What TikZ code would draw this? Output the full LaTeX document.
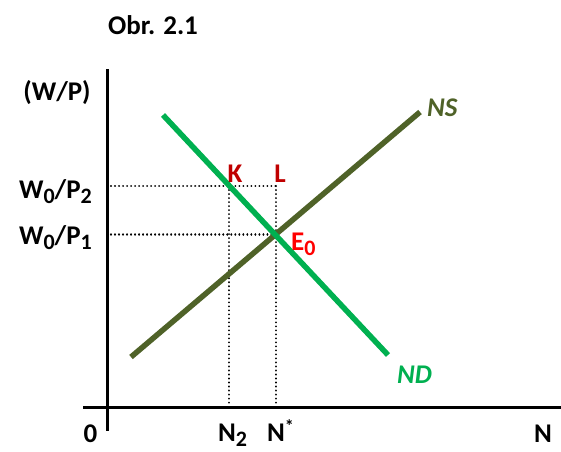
\documentclass[tikz,border=0pt]{standalone}
\usepackage{fontspec}
\setmainfont{Carlito}
\definecolor{ndgreen}{HTML}{00B050}
\definecolor{nsolive}{HTML}{4F6228}
\definecolor{kred}{HTML}{C00000}
\definecolor{ered}{HTML}{FF0000}
\newcommand\lowsub[2][5pt]{\raisebox{-#1}{\fontsize{22}{22}\selectfont #2}}
\newcommand\hisup[1]{\raisebox{9pt}{\fontsize{18}{18}\selectfont #1}}
\begin{document}
\begin{tikzpicture}[x=1pt,y=-1pt,
  lbl/.style={inner sep=0pt, font=\fontsize{27}{30}\selectfont\bfseries},
  axis/.style={line width=3pt, black},
  guide/.style={line width=2.1pt, black, line cap=round, dash pattern=on 0.01pt off 4pt},
  curve/.style={line width=5.5pt}]
\useasboundingbox (0,0) rectangle (561,451);
% axes
\coordinate (ytop) at (107,69);
\coordinate (ybot) at (107,431);
\coordinate (xl) at (83,407);
\coordinate (xr) at (561,407);
\draw[axis] (ytop) -- (ybot);
\draw[axis] (xl) -- (xr);
% key points
\coordinate (E) at (276,234.5);
\coordinate (K) at (229,186);
\coordinate (L) at (276,186);
\coordinate (ya) at (111,186);
\coordinate (yb) at (111,234.5);
\coordinate (xa) at (229,405);
\coordinate (xb) at (276,405);
% dotted guides
\draw[guide] (ya) -- (L);
\draw[guide] (yb) -- (E);
\draw[guide] (K) -- (xa);
\draw[guide] (L) -- (xb);
% curves
\coordinate (ns1) at (131,357);
\coordinate (ns2) at (420,112);
\coordinate (nd1) at (163,115);
\coordinate (nd2) at (388,355);
\draw[curve, nsolive] (ns1) -- (ns2);
\draw[curve, ndgreen] (nd1) -- (nd2);
% labels
\node[lbl, anchor=base] (title) at (153,34) {Obr. 2.1};
\node[lbl, anchor=base] (wp) at (57,100) {(W/P)};
\node[lbl, anchor=base east] (w2) at (92,198) {W\lowsub{0}/P\lowsub{2}};
\node[lbl, anchor=base east] (w1) at (92,244) {W\lowsub{0}/P\lowsub{1}};
\node[lbl, anchor=base, text=kred] (klbl) at (235,182) {K};
\node[lbl, anchor=base, text=kred] (llbl) at (280,182) {L};
\node[lbl, anchor=base west, text=ered] (elbl) at (291,250) {E\lowsub{0}};
\node[lbl, anchor=base west, text=nsolive] (nslbl) at (427,116) {\itshape NS};
\node[lbl, anchor=base west, text=ndgreen] (ndlbl) at (397,383) {\itshape ND};
\node[lbl, anchor=base] (zero) at (90.5,442) {0};
\node[lbl, anchor=base west] (n2) at (218,441) {N\lowsub[5pt]{2}};
\node[lbl, anchor=base west] (nstar) at (267,441) {N\hisup{*}};
\node[lbl, anchor=base] (nlbl) at (543,442) {N};
\end{tikzpicture}
\end{document}
